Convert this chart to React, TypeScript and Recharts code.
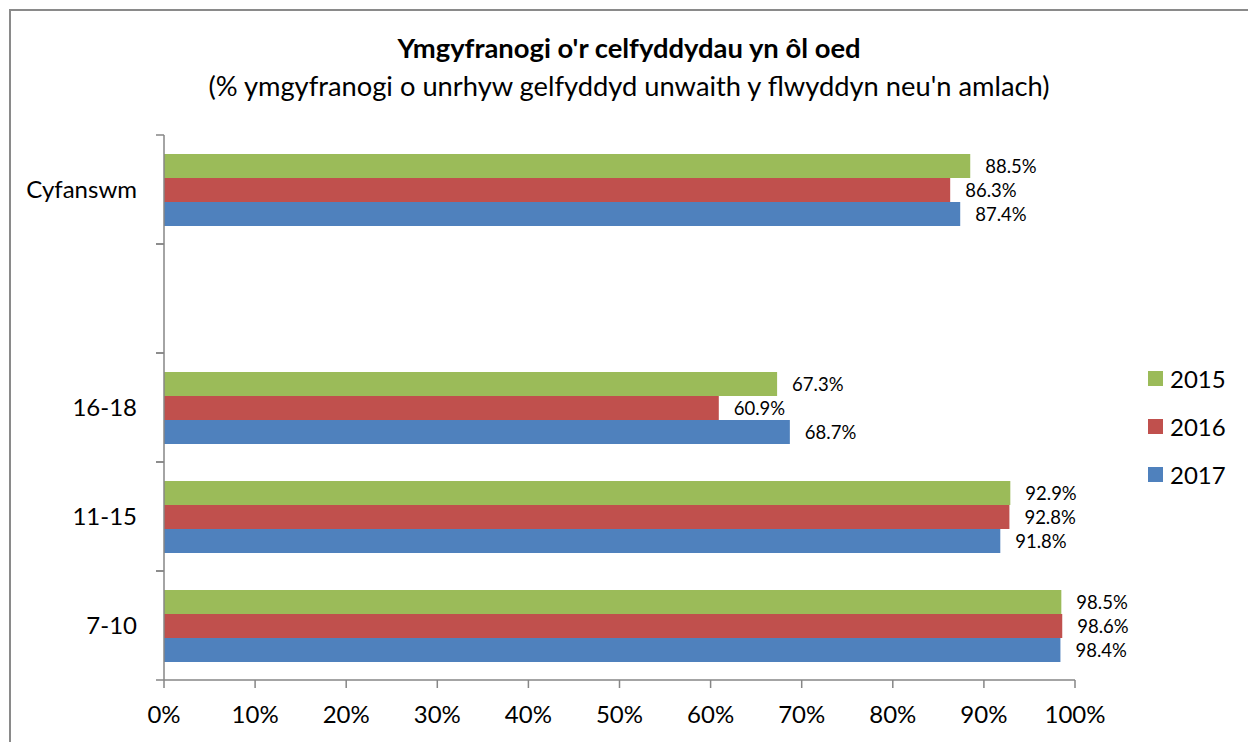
import React from 'react';
import { BarChart, Bar, XAxis, YAxis, LabelList, Legend } from 'recharts';

const categories = ['Cyfanswm', '', '16-18', '11-15', '7-10'];
const values2015 = [88.5, null, 67.3, 92.9, 98.5];
const values2016 = [86.3, null, 60.9, 92.8, 98.6];
const values2017 = [87.4, null, 68.7, 91.8, 98.4];
const xTicks = [0, 10, 20, 30, 40, 50, 60, 70, 80, 90, 100];

const seriesNames = ['2015', '2016', '2017'];
const seriesColors = ['#9BBB59', '#C0504D', '#4F81BD'];

const data = categories.map((name, i) => ({
  name,
  s2015: values2015[i],
  s2016: values2016[i],
  s2017: values2017[i],
}));

const FONT = 'Lato, "Open Sans", sans-serif';
const AXIS_COLOR = '#868686';
const TICK_SIZE = 8;
const TICK_MARGIN = 19;

const YTick = (props: any) => {
  const { x, y, payload } = props;
  const half = payload && typeof payload.offset === 'number' && payload.offset > 0 ? payload.offset : 54.5;
  const axisX = x + TICK_MARGIN + TICK_SIZE;
  return (
    <g>
      <line x1={axisX - TICK_SIZE} x2={axisX} y1={y - half} y2={y - half} stroke={AXIS_COLOR} strokeWidth={1.5} />
      <line x1={axisX - TICK_SIZE} x2={axisX} y1={y + half} y2={y + half} stroke={AXIS_COLOR} strokeWidth={1.5} />
      <text x={x} y={y} dy="0.35em" textAnchor="end" fontSize={24} fontFamily={FONT} fill="#000">
        {payload.value}
      </text>
    </g>
  );
};

const LegendContent = (props: any) => {
  const payload = props.payload || [];
  return (
    <div style={{ fontFamily: FONT, fontSize: 24, color: '#000' }}>
      {payload.map((p: any) => (
        <div key={p.value} style={{ display: 'flex', alignItems: 'center', height: 48 }}>
          <div style={{ width: 15, height: 15, background: p.color, marginRight: 7 }} />
          <span>{p.value}</span>
        </div>
      ))}
    </div>
  );
};

const fmt = (v: any) => (v == null ? '' : `${Number(v).toFixed(1)}%`);

export default function App() {
  return (
    <div style={{ position: 'absolute', left: 0, top: 0, width: 1248, height: 742, overflow: 'hidden', background: '#fff' }}>
      <div
        style={{
          position: 'absolute',
          left: 9,
          top: 9,
          width: 1260,
          height: 760,
          borderLeft: '2px solid #8a8a8a',
          borderTop: '2px solid #8a8a8a',
        }}
      />
      <div
        style={{
          position: 'absolute',
          left: 10,
          width: 1238,
          top: 32,
          textAlign: 'center',
          fontFamily: FONT,
          fontWeight: 'bold',
          fontSize: 27.4,
          color: '#000',
          lineHeight: '32px',
        }}
      >
        Ymgyfranogi o'r celfyddydau yn ôl oed
      </div>
      <div
        style={{
          position: 'absolute',
          left: 10,
          width: 1238,
          top: 70,
          textAlign: 'center',
          fontFamily: FONT,
          fontSize: 27.3,
          color: '#000',
          lineHeight: '32px',
        }}
      >
        (% ymgyfranogi o unrhyw gelfyddyd unwaith y flwyddyn neu'n amlach)
      </div>
      <div style={{ position: 'absolute', left: 0, top: 0 }}>
        <BarChart
          width={1248}
          height={742}
          data={data}
          layout="vertical"
          margin={{ top: 135, right: 73, bottom: 22, left: 0 }}
          barGap={0}
          barSize={24}
        >
          <XAxis
            type="number"
            domain={[0, 100]}
            ticks={xTicks}
            interval={0}
            tickFormatter={(v: number) => `${v}%`}
            stroke={AXIS_COLOR}
            strokeWidth={1.5}
            tickSize={TICK_SIZE}
            tickMargin={18}
            height={40}
            tick={{ fill: '#000', fontSize: 24, fontFamily: FONT }}
          />
          <YAxis
            type="category"
            dataKey="name"
            width={164}
            stroke={AXIS_COLOR}
            strokeWidth={1.5}
            tickLine={false}
            tickSize={TICK_SIZE}
            tickMargin={TICK_MARGIN}
            interval={0}
            tick={<YTick />}
          />
          <Legend
            layout="vertical"
            align="right"
            verticalAlign="top"
            content={<LegendContent />}
            wrapperStyle={{ position: 'absolute', left: 1148, top: 354, width: 100 }}
          />
          {['s2015', 's2016', 's2017'].map((k, i) => (
            <Bar key={k} dataKey={k} name={seriesNames[i]} fill={seriesColors[i]} isAnimationActive={false}>
              <LabelList
                dataKey={k}
                position="right"
                offset={15}
                formatter={fmt}
                style={{ fontSize: 18.5, fontFamily: FONT, fill: '#000' }}
              />
            </Bar>
          ))}
        </BarChart>
      </div>
    </div>
  );
}
